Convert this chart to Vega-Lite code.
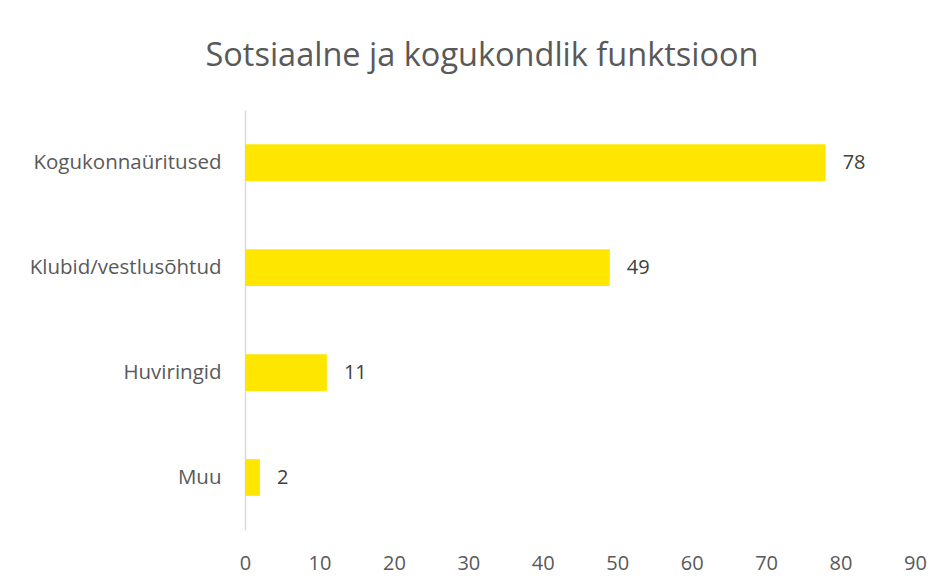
{
  "$schema": "https://vega.github.io/schema/vega-lite/v6.json",
  "width": 670,
  "height": 420,
  "autosize": {"type": "none"},
  "padding": {"left": 245, "top": 110, "right": 32, "bottom": 53},
  "background": "white",
  "title": {
    "text": "Sotsiaalne ja kogukondlik funktsioon",
    "font": "Open Sans",
    "fontSize": 32.5,
    "fontWeight": "normal",
    "color": "#595959",
    "anchor": "middle",
    "frame": "group",
    "baseline": "alphabetic",
    "dx": -98,
    "offset": 12
  },
  "data": {
    "values": [
      {"kategooria": "Kogukonnaüritused", "vastused": 78},
      {"kategooria": "Klubid/vestlusõhtud", "vastused": 49},
      {"kategooria": "Huviringid", "vastused": 11},
      {"kategooria": "Muu", "vastused": 2}
    ]
  },
  "encoding": {
    "y": {
      "field": "kategooria",
      "type": "nominal",
      "sort": null,
      "scale": {"paddingInner": 0.65, "paddingOuter": 0.325},
      "axis": {
        "title": null,
        "ticks": false,
        "labelFont": "Open Sans",
        "labelFontSize": 20.5,
        "labelColor": "#595959",
        "labelPadding": 24,
        "labelLimit": 400,
        "domainColor": "#d9d9d9",
        "domainWidth": 1.5
      }
    },
    "x": {
      "field": "vastused",
      "type": "quantitative",
      "scale": {"domain": [0, 90], "nice": false},
      "axis": {
        "title": null,
        "values": [0, 10, 20, 30, 40, 50, 60, 70, 80, 90],
        "domain": false,
        "ticks": false,
        "grid": false,
        "labelFlush": false,
        "labelFont": "Open Sans",
        "labelFontSize": 20,
        "labelColor": "#595959",
        "labelPadding": 23
      }
    }
  },
  "layer": [
    {"mark": {"type": "bar", "color": "#FFE600"}},
    {
      "mark": {"type": "text", "align": "left", "baseline": "middle", "dx": 17, "font": "Open Sans", "fontSize": 20, "color": "#404040"},
      "encoding": {"text": {"field": "vastused", "type": "quantitative"}}
    }
  ],
  "config": {"view": {"stroke": null}}
}
